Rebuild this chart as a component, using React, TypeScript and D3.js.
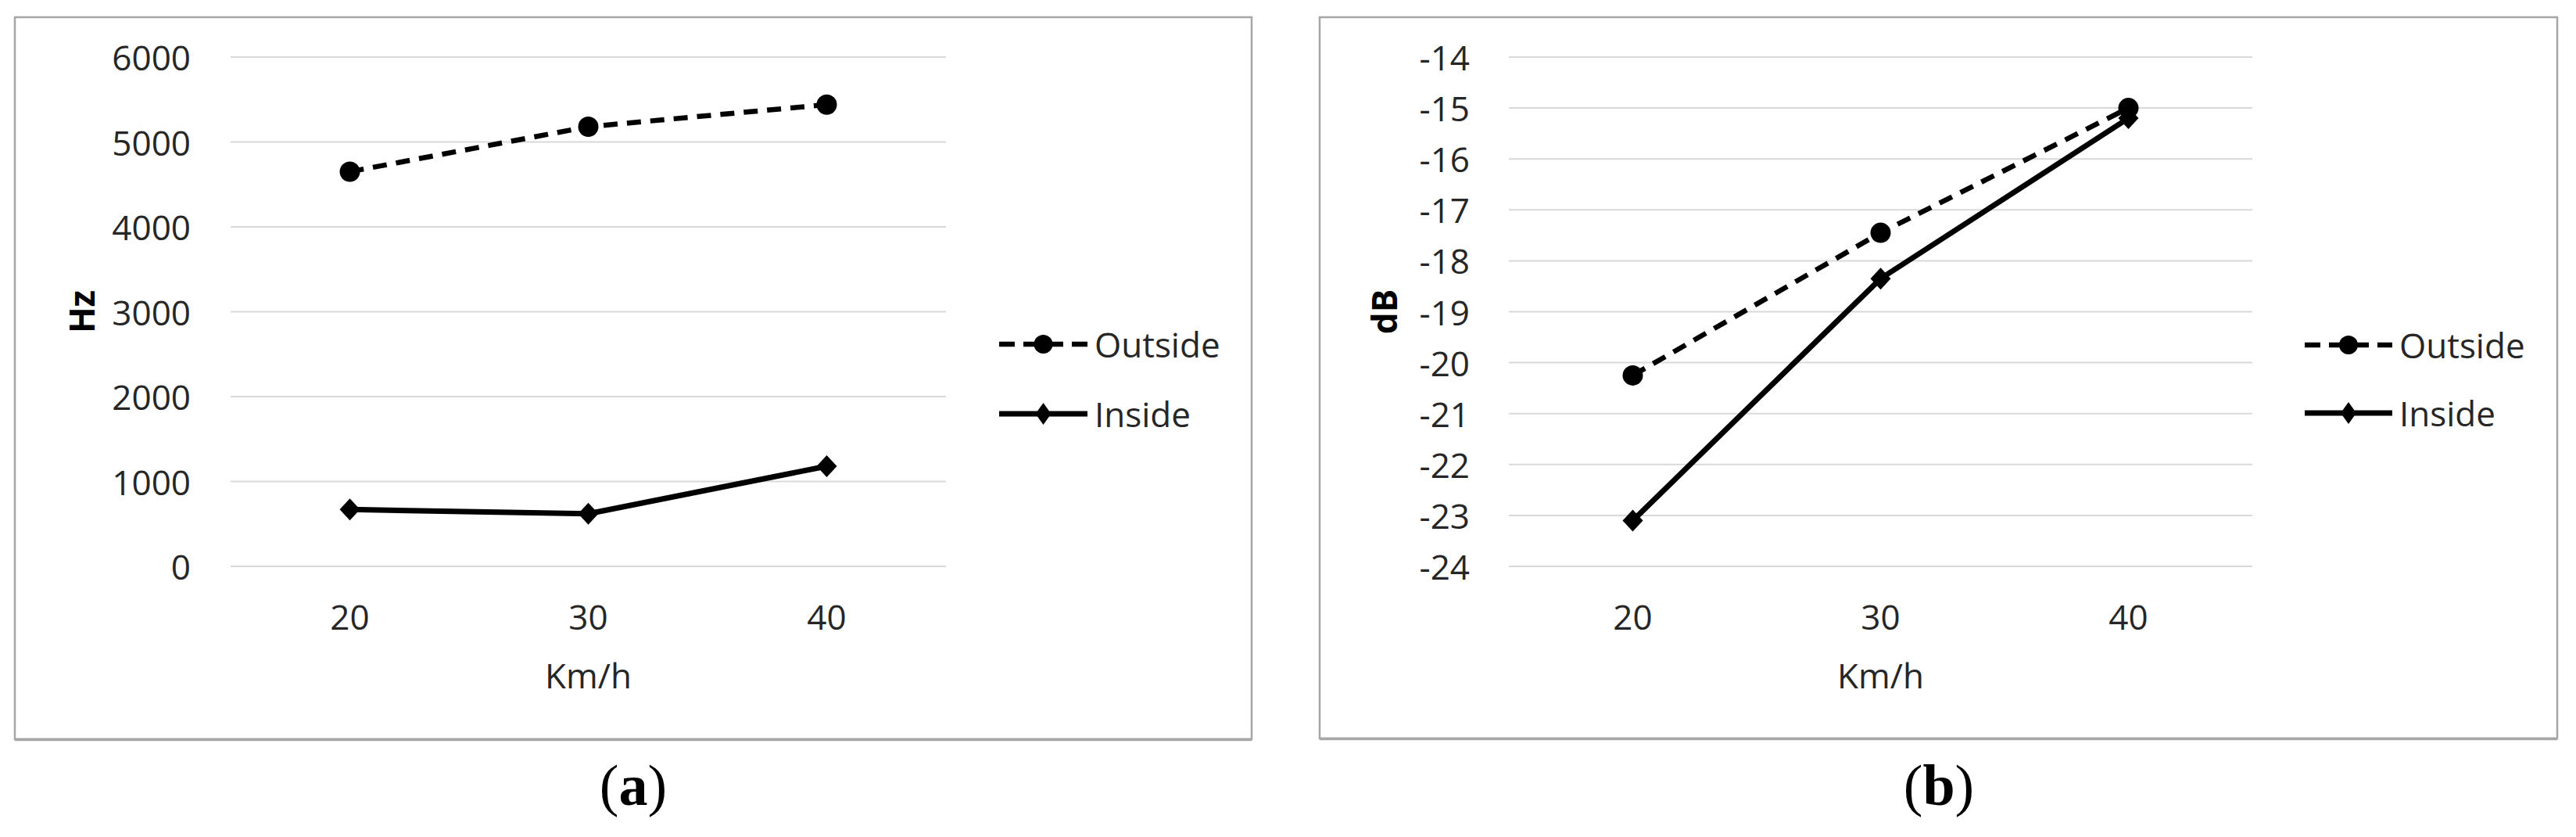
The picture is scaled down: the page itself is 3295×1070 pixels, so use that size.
import React from "react";
import * as d3 from "d3";

// speeds on the x axis
const speeds = ["20", "30", "40"];

// panel (a): frequency, Hz
const hzOutside = [4650, 5180, 5440];
const hzInside = [670, 620, 1180];
const hzTicks = [0, 1000, 2000, 3000, 4000, 5000, 6000];

// panel (b): level, dB
const dbOutside = [-20.25, -17.45, -15.0];
const dbInside = [-23.1, -18.35, -15.2];
const dbTicks = [-24, -23, -22, -21, -20, -19, -18, -17, -16, -15, -14];

const seriesNames = ["Outside", "Inside"];

const FONT = "'Open Sans', 'Noto Sans', sans-serif";
const FS = 44;

function diamond(cx, cy, w = 11, h = 13) {
  return `M${cx},${cy - h}L${cx + w},${cy}L${cx},${cy + h}L${cx - w},${cy}Z`;
}

function Panel({ box, plot, legend, domain, ticks, outside, inside, yTitle, yTitleX, caption, captionX }) {
  const x = d3.scalePoint().domain(speeds).range([plot.x0, plot.x1]).padding(0.5);
  const y = d3.scaleLinear().domain(domain).range([plot.y1, plot.y0]);
  const line = d3
    .line()
    .x((d, i) => x(speeds[i]))
    .y((d) => y(d));

  return (
    <g>
      {/* chart frame */}
      <rect x={box.x0} y={box.y0} width={box.x1 - box.x0} height={box.y1 - box.y0} fill="#fff" stroke="#a6a6a6" strokeWidth={2.5} />
      <line x1={box.x0} x2={box.x1} y1={box.y1 + 0.5} y2={box.y1 + 0.5} stroke="#a6a6a6" strokeWidth={3.5} />

      {ticks.map((t) => (
        <g key={t}>
          <line x1={plot.x0} x2={plot.x1} y1={y(t)} y2={y(t)} stroke="#d9d9d9" strokeWidth={2} />
          <text x={plot.labelX} y={y(t)} textAnchor="end" dominantBaseline="central" fontFamily={FONT} fontSize={FS} fill="#262626">
            {t}
          </text>
        </g>
      ))}

      {speeds.map((s) => (
        <text key={s} x={x(s)} y={805} textAnchor="middle" fontFamily={FONT} fontSize={FS} fill="#262626">
          {s}
        </text>
      ))}
      <text x={x(speeds[1])} y={880} textAnchor="middle" fontFamily={FONT} fontSize={FS} fill="#262626">
        Km/h
      </text>
      <text
        transform={`translate(${yTitleX},${(plot.y0 + plot.y1) / 2}) rotate(-90)`}
        textAnchor="middle"
        dominantBaseline="central"
        fontFamily={FONT}
        fontSize={FS}
        fontWeight="bold"
        fill="#000"
      >
        {yTitle}
      </text>

      <path d={line(outside)} fill="none" stroke="#000" strokeWidth={6.5} strokeDasharray="18,12" />
      <path d={line(inside)} fill="none" stroke="#000" strokeWidth={7} />
      {outside.map((v, i) => (
        <circle key={i} cx={x(speeds[i])} cy={y(v)} r={13} fill="#000" />
      ))}
      {inside.map((v, i) => (
        <path key={i} d={diamond(x(speeds[i]), y(v), 13, 14)} fill="#000" />
      ))}

      {/* legend */}
      <line x1={legend.x0} x2={legend.x1} y1={legend.y0} y2={legend.y0} stroke="#000" strokeWidth={6.5} strokeDasharray="20,11" />
      <circle cx={(legend.x0 + legend.x1) / 2} cy={legend.y0} r={12} fill="#000" />
      <text x={legend.tx} y={legend.y0} dominantBaseline="central" fontFamily={FONT} fontSize={FS} fill="#262626">
        {seriesNames[0]}
      </text>
      <line x1={legend.x0} x2={legend.x1} y1={legend.y1} y2={legend.y1} stroke="#000" strokeWidth={7} />
      <path d={diamond((legend.x0 + legend.x1) / 2, legend.y1, 10, 14)} fill="#000" />
      <text x={legend.tx} y={legend.y1} dominantBaseline="central" fontFamily={FONT} fontSize={FS} fill="#262626">
        {seriesNames[1]}
      </text>

      <text x={captionX} y={1029} textAnchor="middle" fontFamily="'Liberation Serif', 'DejaVu Serif', serif" fontSize={74} fill="#000">
        (<tspan fontWeight="bold">{caption}</tspan>)
      </text>
    </g>
  );
}

export default function App() {
  return (
    <svg width={3295} height={1070} style={{ position: "absolute", left: 0, top: 0, display: "block", background: "#fff" }}>
      <rect width={3295} height={1070} fill="#fff" />
      <Panel
        box={{ x0: 19, x1: 1601, y0: 22, y1: 945 }}
        plot={{ x0: 295, x1: 1210, y0: 73, y1: 724, labelX: 244 }}
        legend={{ x0: 1278, x1: 1391, tx: 1400, y0: 440, y1: 529 }}
        domain={[0, 6000]}
        ticks={hzTicks}
        outside={hzOutside}
        inside={hzInside}
        yTitle="Hz"
        yTitleX={104}
        caption="a"
        captionX={810}
      />
      <Panel
        box={{ x0: 1688, x1: 3271, y0: 22, y1: 944 }}
        plot={{ x0: 1930, x1: 2881, y0: 73, y1: 724, labelX: 1880 }}
        legend={{ x0: 2948, x1: 3060, tx: 3069, y0: 441, y1: 528 }}
        domain={[-24, -14]}
        ticks={dbTicks}
        outside={dbOutside}
        inside={dbInside}
        yTitle="dB"
        yTitleX={1770}
        caption="b"
        captionX={2480}
      />
    </svg>
  );
}
